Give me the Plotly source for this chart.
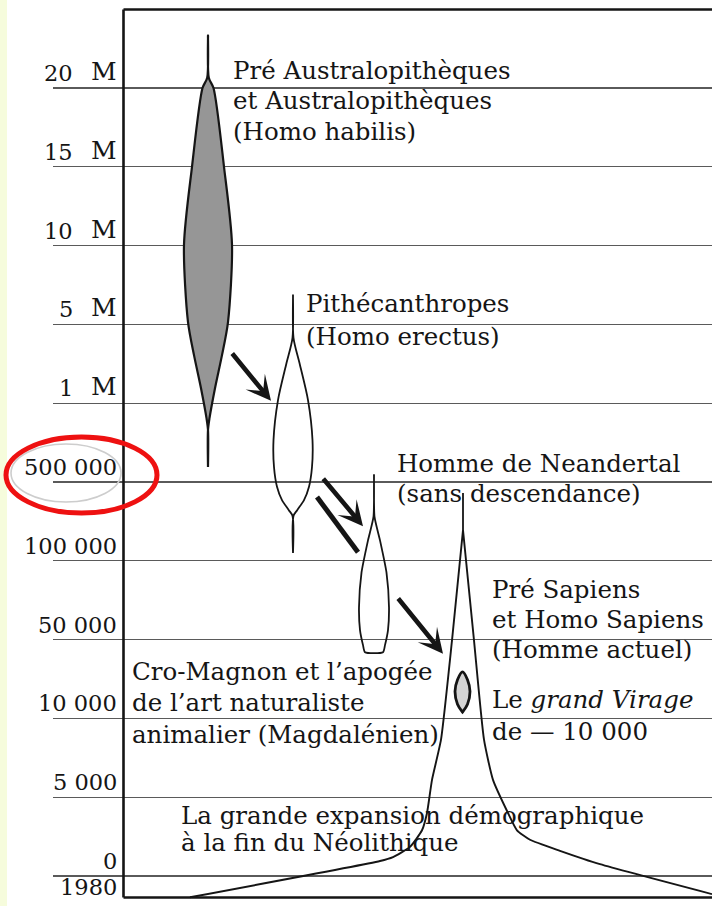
import plotly.graph_objects as go

# ---------------- DATA ----------------
# Vertical time scale (non-linear): one rank per horizontal rule
echelle_labels = ["0", "5 000", "10 000", "50 000", "100 000", "500 000",
                  "1 M", "5 M", "10 M", "15 M", "20 M"]
echelle_rang = list(range(len(echelle_labels)))
label_1980 = "1980"
rang_1980 = -0.14

# Lineage profiles: time (scale rank) and half-width of the spindle
austra_t = [10.67, 10.13, 10.00, 9.00, 8.01, 7.03, 6.61, 6.19, 5.81, 5.66, 5.19]
austra_hw = [0, 0.8, 5.5, 16, 24, 20, 14, 7, 1.5, 0, 0]

pithec_t = [7.37, 6.83, 6.51, 6.04, 5.53, 5.19, 4.94, 4.77, 4.64, 4.57, 4.10]
pithec_hw = [0, 0.5, 6.5, 15, 19.5, 19, 16, 11, 4, 0.5, 0]

neand_t = [5.09, 4.56, 4.26, 3.85, 3.41, 3.12, 2.93, 2.84]
neand_hw = [0, 0.5, 6, 12.5, 15, 14, 11, 9]

cromagnon_t = [2.59, 2.49, 2.34, 2.18, 2.08]
cromagnon_hw = [0, 5, 7.5, 5, 0]

# Homo sapiens: spike, then left and right flanks
sapiens_spike_t = [4.86, 4.39]
sapiens_left_t = [4.39, 2.99, 1.73, 1.22, 0.80, 0.58, 0.37, 0.24, 0.19, -0.27]
sapiens_left_x = [463, 452, 441, 432, 427, 422, 410, 393, 380, 190]
sapiens_right_t = [4.39, 2.99, 1.73, 1.22, 0.80, 0.58, 0.46, 0.32, 0.15, -0.23]
sapiens_right_x = [463, 474, 484, 493, 508, 517, 530, 560, 600, 712]

# Descent arrows: (x_tail, t_tail, x_head, t_head)
fleches = [(231, 6.65, 271, 6.03), (322, 5.06, 363, 4.44), (397, 3.54, 443, 2.82)]
trait = (317, 4.81, 358, 4.11)

# Text blocks: (x, t, text)
textes = [
    (233, 10.22, "Pré Australopithèques"),
    (233, 9.84, "et Australopithèques"),
    (233, 9.45, "(Homo habilis)"),
    (306, 7.26, "Pithécanthropes"),
    (306, 6.85, "(Homo erectus)"),
    (397, 5.23, "Homme de Neandertal"),
    (397, 4.86, "(sans descendance)"),
    (492, 3.63, "Pré Sapiens"),
    (492, 3.25, "et Homo Sapiens"),
    (492, 2.87, "(Homme actuel)"),
    (492, 2.24, "Le <i>grand Virage</i>"),
    (492, 1.84, "de — 10 000"),
    (132, 2.60, "Cro-Magnon et l’apogée"),
    (132, 2.20, "de l’art naturaliste"),
    (132, 1.79, "animalier (Magdalénien)"),
    (181, 0.77, "La grande expansion démographique"),
    (181, 0.42, "à la fin du Néolithique"),
]

# ---------------- STYLE / GEOMETRY ----------------
INK = "#151515"
FONT = "DejaVu Serif"
T_TOP, T_BOT = 11.041, -0.330
FRAME_TOP, FRAME_BOT, FRAME_X = 10.996, -0.273, 123.5


def spindle(cx, ts, hws):
    xs = [cx + h for h in hws] + [cx - h for h in reversed(hws)]
    ys = list(ts) + list(reversed(ts))
    return xs, ys


fig = go.Figure()

# Australopithecines (shaded)
xs, ys = spindle(208, austra_t, austra_hw)
fig.add_trace(go.Scatter(x=xs, y=ys, mode="lines", fill="toself",
                         fillcolor="#969696",
                         line=dict(color=INK, width=2.2, shape="spline", smoothing=0.8),
                         hoverinfo="skip", showlegend=False))
# Pithecanthropes
xs, ys = spindle(293, pithec_t, pithec_hw)
fig.add_trace(go.Scatter(x=xs, y=ys, mode="lines",
                         line=dict(color=INK, width=1.8, shape="spline", smoothing=0.8),
                         hoverinfo="skip", showlegend=False))
# Neandertal
xs, ys = spindle(374, neand_t, neand_hw)
fig.add_trace(go.Scatter(x=xs, y=ys, mode="lines",
                         line=dict(color=INK, width=1.8, shape="spline", smoothing=0.6),
                         hoverinfo="skip", showlegend=False))
# Cro-Magnon lens
xs, ys = spindle(462.5, cromagnon_t, cromagnon_hw)
fig.add_trace(go.Scatter(x=xs, y=ys, mode="lines", fill="toself",
                         fillcolor="#d4d4d4",
                         line=dict(color=INK, width=2.8, shape="spline", smoothing=1),
                         hoverinfo="skip", showlegend=False))
# Homo sapiens
fig.add_trace(go.Scatter(x=[463, 463], y=sapiens_spike_t, mode="lines",
                         line=dict(color=INK, width=1.8),
                         hoverinfo="skip", showlegend=False))
fig.add_trace(go.Scatter(x=sapiens_left_x, y=sapiens_left_t, mode="lines",
                         line=dict(color=INK, width=1.9, shape="spline", smoothing=0.5),
                         hoverinfo="skip", showlegend=False))
fig.add_trace(go.Scatter(x=sapiens_right_x, y=sapiens_right_t, mode="lines",
                         line=dict(color=INK, width=1.9, shape="spline", smoothing=0.5),
                         hoverinfo="skip", showlegend=False))

shapes = []
# frame
shapes.append(dict(type="line", xref="x", yref="y", x0=FRAME_X, x1=FRAME_X,
                   y0=FRAME_BOT, y1=FRAME_TOP, line=dict(color=INK, width=2.6)))
shapes.append(dict(type="line", xref="x", yref="y", x0=FRAME_X, x1=712,
                   y0=FRAME_TOP, y1=FRAME_TOP, line=dict(color=INK, width=2.6)))
shapes.append(dict(type="line", xref="x", yref="y", x0=FRAME_X, x1=712,
                   y0=FRAME_BOT, y1=FRAME_BOT, line=dict(color=INK, width=2.6)))
# headless stroke
shapes.append(dict(type="line", xref="x", yref="y", x0=trait[0], y0=trait[1],
                   x1=trait[2], y1=trait[3], line=dict(color=INK, width=5)))

# left yellow strip and the red highlight (paper coordinates)
W_PLOT, H_PLOT, L_M, B_M = 659.0, 896.0, 53.0, 4.0


def px_paper(px):
    return (px - L_M) / W_PLOT


def py_paper(py):
    return (906 - B_M - py) / H_PLOT


shapes.append(dict(type="rect", xref="paper", yref="paper", layer="below",
                   x0=px_paper(0), x1=px_paper(7), y0=-0.02, y1=1.02,
                   fillcolor="#f6fcdc", line=dict(width=0)))
shapes.append(dict(type="circle", xref="paper", yref="paper",
                   x0=px_paper(11), x1=px_paper(121), y0=py_paper(502), y1=py_paper(444),
                   line=dict(color="#cdcdcd", width=1.6)))
shapes.append(dict(type="circle", xref="paper", yref="paper",
                   x0=px_paper(6), x1=px_paper(157), y0=py_paper(513), y1=py_paper(437),
                   line=dict(color="#ee1111", width=5)))

annotations = []
# tick labels
for r, lab in zip(echelle_rang, echelle_labels):
    if lab.endswith(" M"):
        annotations.append(dict(x=75, y=r, xref="x", yref="y", text=lab[:-2],
                                showarrow=False, xanchor="right", yanchor="bottom",
                                font=dict(family=FONT, size=22.5, color=INK)))
        annotations.append(dict(x=119, y=r, xref="x", yref="y", text="M",
                                showarrow=False, xanchor="right", yanchor="bottom",
                                font=dict(family=FONT, size=25, color=INK)))
    else:
        annotations.append(dict(x=119, y=r, xref="x", yref="y", text=lab,
                                showarrow=False, xanchor="right", yanchor="bottom",
                                font=dict(family=FONT, size=22.5, color=INK)))
annotations.append(dict(x=119, y=rang_1980, xref="x", yref="y", text=label_1980,
                        showarrow=False, xanchor="right", yanchor="middle",
                        font=dict(family=FONT, size=22.5, color=INK)))

for x, t, txt in textes:
    annotations.append(dict(x=x - 2, y=t, xref="x", yref="y", text=txt,
                            showarrow=False, xanchor="left", yanchor="middle",
                            font=dict(family=FONT, size=24.5, color=INK)))

for x0, t0, x1, t1 in fleches:
    annotations.append(dict(x=x1, y=t1, ax=x0, ay=t0, xref="x", yref="y",
                            axref="x", ayref="y", text="", showarrow=True,
                            arrowhead=3, arrowsize=0.9, arrowwidth=4.6,
                            arrowcolor=INK))

fig.update_layout(
    width=712, height=906,
    margin=dict(l=53, r=0, t=6, b=4),
    paper_bgcolor="white", plot_bgcolor="white",
    showlegend=False,
    xaxis=dict(range=[53, 712], visible=False, fixedrange=True),
    yaxis=dict(range=[T_BOT, T_TOP], tickvals=echelle_rang, showticklabels=False,
               showgrid=True, gridcolor="#5a5a5a", gridwidth=1.1,
               zeroline=False, showline=False, ticks="", fixedrange=True),
    shapes=shapes,
    annotations=annotations,
)

fig.write_html("out.html",
               config={"displayModeBar": False, "staticPlot": True},
               post_script="document.body.style.margin='0';"
                           "document.body.style.overflow='hidden';")
